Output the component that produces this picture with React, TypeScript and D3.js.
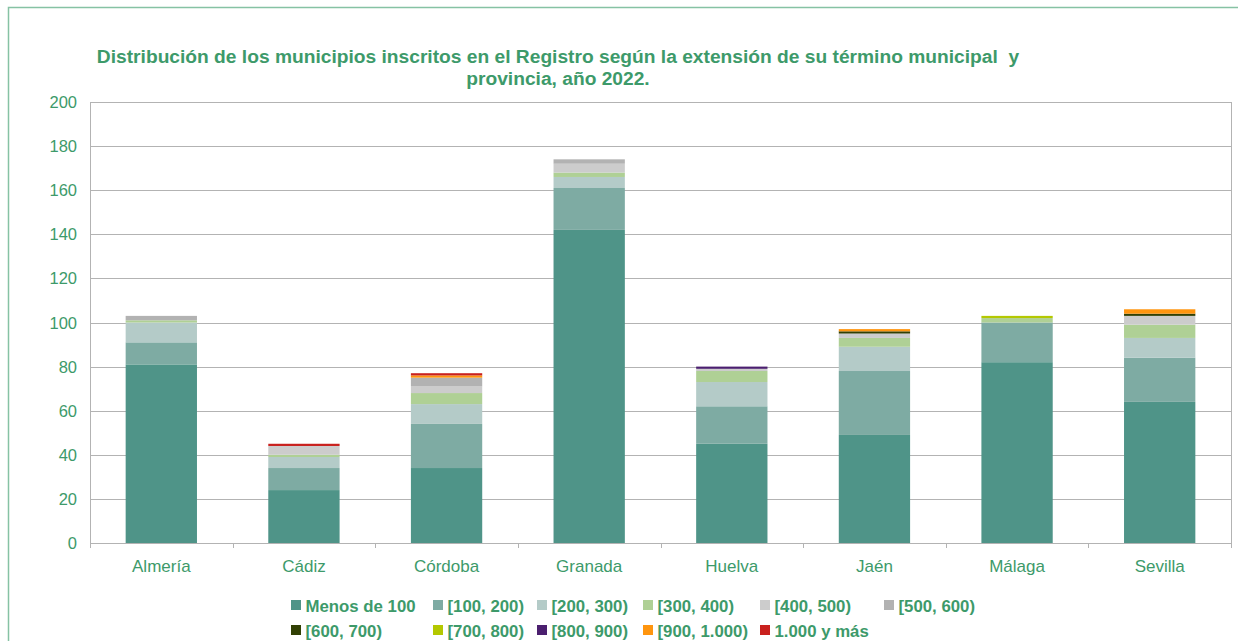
import React, { useEffect, useRef } from 'react';
import * as d3 from 'd3';

const provinces = ['Almería', 'Cádiz', 'Córdoba', 'Granada', 'Huelva', 'Jaén', 'Málaga', 'Sevilla'];

const seriesNames = [
  'Menos de 100', '[100, 200)', '[200, 300)', '[300, 400)', '[400, 500)', '[500, 600)',
  '[600, 700)', '[700, 800)', '[800, 900)', '[900, 1.000)', '1.000 y más',
];

// one array per extension band, values per province (same order as provinces)
const menos100 = [81, 24, 34, 142, 45, 49, 82, 64];
const r100_200 = [10, 10, 20, 19, 17, 29, 18, 20];
const r200_300 = [9, 5, 9, 5, 11, 11, 0, 9];
const r300_400 = [1, 1, 5, 2, 5, 4, 2, 6];
const r400_500 = [0, 4, 3, 4, 1, 2, 0, 4];
const r500_600 = [2, 0, 4, 2, 0, 0, 0, 0];
const r600_700 = [0, 0, 0, 0, 0, 1, 0, 1];
const r700_800 = [0, 0, 0, 0, 0, 0, 1, 0];
const r800_900 = [0, 0, 0, 0, 1, 0, 0, 0];
const r900_1000 = [0, 0, 1, 0, 0, 1, 0, 2];
const r1000mas = [0, 1, 1, 0, 0, 0, 0, 0];

const yTicks = [0, 20, 40, 60, 80, 100, 120, 140, 160, 180, 200];

const colors = ['#4f9488', '#7eaba3', '#b4cbc8', '#afd095', '#cccccc', '#b2b2b2',
  '#314004', '#b4c800', '#4b1f6f', '#ff950e', '#c9211e'];

const green = '#3d9a6a';
const font = 'Liberation Sans, Arial, sans-serif';

export default function App() {
  const ref = useRef<SVGSVGElement>(null);

  useEffect(() => {
    const svg = d3.select(ref.current);
    svg.selectAll('*').remove();

    const allSeries = [menos100, r100_200, r200_300, r300_400, r400_500, r500_600,
      r600_700, r700_800, r800_900, r900_1000, r1000mas];

    const table = provinces.map((p, i) => {
      const row: any = { province: p };
      seriesNames.forEach((s, j) => { row[s] = allSeries[j][i]; });
      return row;
    });

    const left = 90, right = 1231, top = 102, bottom = 543;

    const x = d3.scaleBand().domain(provinces).range([left, right]).paddingInner(0.5).paddingOuter(0.25);
    const y = d3.scaleLinear().domain([0, 200]).range([bottom, top]);
    const color = d3.scaleOrdinal<string>().domain(seriesNames).range(colors);

    // frame
    svg.append('path')
      .attr('d', 'M8.5,641 L8.5,7.5 L1238,7.5')
      .attr('fill', 'none').attr('stroke', '#86c2a4').attr('stroke-width', 1.5);

    // title
    const title = svg.append('text')
      .attr('text-anchor', 'middle')
      .style('white-space', 'pre')
      .attr('font-family', font)
      .attr('font-weight', 'bold').attr('font-size', 19.2).attr('fill', green);
    title.append('tspan').attr('x', 558).attr('y', 63)
      .text('Distribución de los municipios inscritos en el Registro según la extensión de su término municipal  y');
    title.append('tspan').attr('x', 558).attr('y', 85).text('provincia, año 2022.');

    // grid
    svg.append('g').selectAll('line').data(yTicks).enter().append('line')
      .attr('x1', left).attr('x2', right)
      .attr('y1', d => Math.round(y(d)) + 0.5).attr('y2', d => Math.round(y(d)) + 0.5)
      .attr('stroke', '#b3b3b3').attr('stroke-width', 1);

    svg.append('line').attr('x1', left + 0.5).attr('x2', left + 0.5).attr('y1', top).attr('y2', bottom)
      .attr('stroke', '#b3b3b3');
    svg.append('line').attr('x1', right + 0.5).attr('x2', right + 0.5).attr('y1', top).attr('y2', bottom + 5)
      .attr('stroke', '#b3b3b3');

    // category separators on x axis
    const step = x.step();
    const seps = provinces.map((p, i) => left + i * step);
    svg.append('g').selectAll('line').data(seps).enter().append('line')
      .attr('x1', d => Math.round(d) + 0.5).attr('x2', d => Math.round(d) + 0.5)
      .attr('y1', bottom).attr('y2', bottom + 5)
      .attr('stroke', '#b3b3b3');

    // y labels
    svg.append('g').selectAll('text').data(yTicks).enter().append('text')
      .attr('x', 77).attr('y', d => y(d) + 6)
      .attr('text-anchor', 'end')
      .attr('font-family', font).attr('font-size', 16.5)
      .attr('fill', green).text(d => d);

    // x labels
    svg.append('g').selectAll('text').data(provinces).enter().append('text')
      .attr('x', d => (x(d) as number) + x.bandwidth() / 2).attr('y', 572)
      .attr('text-anchor', 'middle')
      .attr('font-family', font).attr('font-size', 17)
      .attr('fill', green).text(d => d);

    // stacked bars
    const stacked = d3.stack<any>().keys(seriesNames)(table);
    svg.append('g').selectAll('g').data(stacked).enter().append('g')
      .attr('fill', d => color(d.key))
      .selectAll('rect').data(d => d).enter().append('rect')
      .attr('x', d => x(d.data.province) as number)
      .attr('width', x.bandwidth())
      .attr('y', d => y(d[1]))
      .attr('height', d => y(d[0]) - y(d[1]));

    // legend
    const colX = [291, 433, 537, 643, 760, 884];
    const legend = svg.append('g').selectAll('g').data(seriesNames).enter().append('g')
      .attr('transform', (d, i) => `translate(${colX[i % 6]},${i < 6 ? 606 : 631})`);
    legend.append('rect').attr('x', 0).attr('y', -6).attr('width', 10).attr('height', 10)
      .attr('fill', d => color(d));
    legend.append('text').attr('x', 14.5).attr('y', 5.5)
      .attr('font-family', font).attr('font-weight', 'bold')
      .attr('font-size', 16.8).attr('fill', green).text(d => d);
  }, []);

  return (
    <svg ref={ref} width={1238} height={641}
      style={{ position: 'absolute', left: 0, top: 0, background: '#fff' }} />
  );
}
